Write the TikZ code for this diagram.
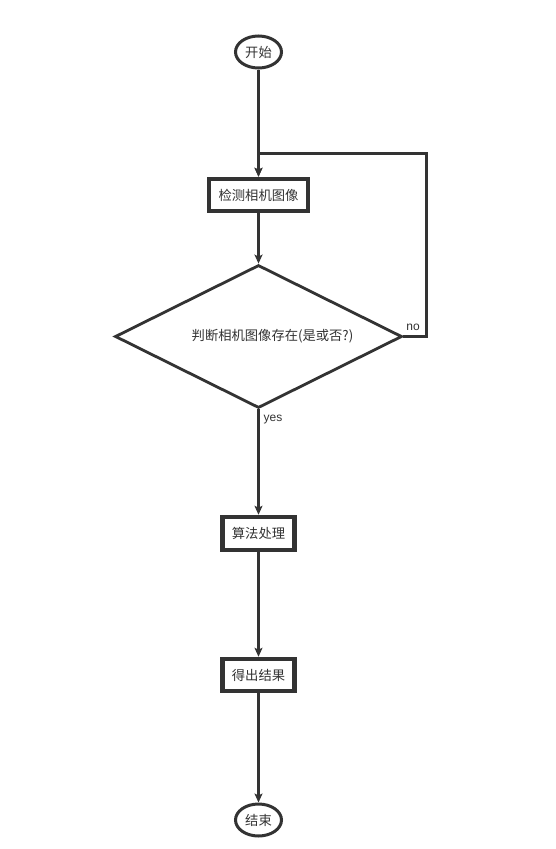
\documentclass[tikz,border=0pt]{standalone}
\usepackage{fontspec}
\setmainfont{Liberation Sans}
\newfontfamily\cjk{Noto Sans CJK SC}
\usetikzlibrary{shapes.geometric,arrows.meta}
\definecolor{ink}{HTML}{333333}
\begin{document}
\begin{tikzpicture}[x=1pt,y=-1pt,
  every node/.style={text=ink,font=\cjk\fontsize{13.3}{15}\selectfont},
  term/.style={ellipse,draw=ink,line width=3pt,minimum width=46pt,minimum height=32pt,inner sep=0pt},
  proc/.style={rectangle,draw=ink,line width=4.5pt,inner sep=0pt},
  decide/.style={diamond,draw=ink,line width=2.8pt,minimum width=287pt,minimum height=143pt,inner sep=0pt,aspect=2},
  conn/.style={draw=ink,line width=3pt,-{Stealth[length=9pt,width=8pt,inset=2pt]}},
  lbl/.style={font=\fontsize{12}{14}\selectfont,inner sep=0pt}]
\useasboundingbox (0,0) rectangle (556,849);
\fill[white] (0,0) rectangle (556,849);
\node[term] (start) at (258.5,52) {开始};
\node[proc,minimum width=99pt,minimum height=32pt] (detect) at (258.5,195) {检测相机图像};
\node[decide] (dec) at (258.5,336.5) {};
\node[inner sep=0pt] (dectext) at (272.5,336.5) {判断相机图像存在(是或否?)};
\node[proc,minimum width=72pt,minimum height=33pt] (algo) at (258.5,533.5) {算法处理};
\node[proc,minimum width=72pt,minimum height=32pt] (result) at (258.5,675) {得出结果};
\node[term] (stop) at (258.5,820) {结束};
\coordinate (loopA) at (426,153);
\draw[conn] (start) -- (detect);
\draw[conn] (detect) -- (dec);
\draw[conn] (dec.east) -- (dec.east -| loopA) -- (loopA) -- (loopA -| detect) -- (detect.north);
\draw[conn] (dec) -- (algo);
\draw[conn] (algo) -- (result);
\draw[conn] (result) -- (stop);
\node[lbl] (no) at (413,327) {no};
\node[lbl] (yes) at (273,420) {yes};
\end{tikzpicture}
\end{document}
